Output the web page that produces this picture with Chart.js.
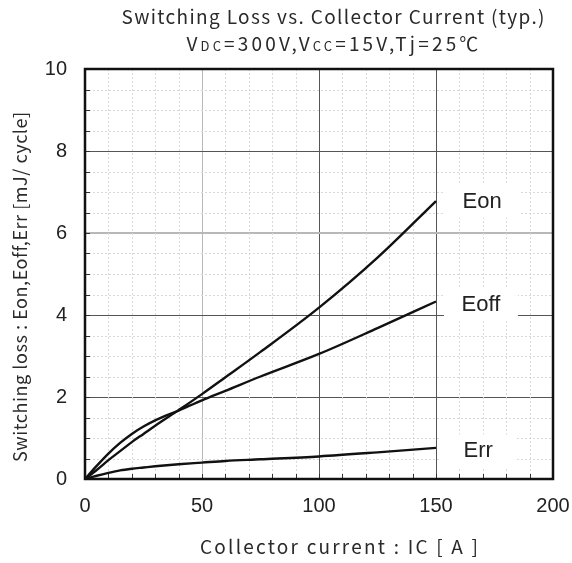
<!DOCTYPE html>
<html>
<head>
<meta charset="utf-8">
<script src="https://cdn.jsdelivr.net/npm/chart.js@4"></script>
<style>
  html, body { margin: 0; padding: 0; background: #fff; }
  #wrap { width: 572px; height: 563px; }
</style>
</head>
<body>
<div id="wrap"><canvas id="lossChart"></canvas></div>
<script>
const FONT = '"Liberation Sans", Arial, sans-serif';
const TITLE_FONT = '"Noto Sans CJK JP", "Noto Sans", sans-serif';

// collector current [A]
const currents = [0, 5, 10, 15, 20, 25, 30, 40, 50, 60, 75, 100, 125, 150];
// switching losses [mJ/cycle]
const eon  = [0, 0.22, 0.46, 0.68, 0.9, 1.1, 1.3, 1.68, 2.07, 2.48, 3.1, 4.18, 5.4, 6.78];
const eoff = [0, 0.32, 0.62, 0.88, 1.1, 1.28, 1.43, 1.67, 1.92, 2.15, 2.5, 3.05, 3.68, 4.33];
const err  = [0, 0.08, 0.15, 0.21, 0.25, 0.28, 0.31, 0.36, 0.4, 0.44, 0.48, 0.55, 0.65, 0.76];

const seriesNames = ['Eon', 'Eoff', 'Err'];
// where each series name sits (x in A, y in mJ)
const namePos = [[169.7, 6.78], [169.2, 4.26], [168, 0.7]];

function toPoints(values) {
    return values.map((v, i) => ({ x: currents[i], y: v }));
}

// draw text fitted to a given width by adjusting letter spacing
function spreadText(ctx, text, cx, y, width) {
    ctx.letterSpacing = '0px';
    const natural = ctx.measureText(text).width;
    const gap = (width - natural) / (text.length - 1);
    ctx.letterSpacing = gap + 'px';
    ctx.textAlign = 'left';
    ctx.fillText(text, cx - width / 2, y);
    ctx.letterSpacing = '0px';
}

const lineStyle = {
    borderColor: '#111',
    borderWidth: 2.4,
    pointRadius: 0,
    fill: false,
    tension: 0.4,
    cubicInterpolationMode: 'monotone',
};

// minor grid, frame, tick marks, series names and titles
const decorations = {
    id: 'decorations',
    beforeDatasetsDraw(chart) {
        const { ctx, chartArea: a, scales } = chart;
        ctx.save();
        ctx.lineWidth = 1;
        ctx.strokeStyle = '#d9d9d9';
        ctx.setLineDash([2, 2]);
        for (let i = 1; i < 20; i++) {
            const v = i * 10;
            if (v % 50 === 0) continue;
            const px = Math.round(scales.x.getPixelForValue(v)) + 0.5;
            ctx.beginPath();
            ctx.moveTo(px, a.top);
            ctx.lineTo(px, a.bottom);
            ctx.stroke();
        }
        for (let i = 1; i < 20; i++) {
            if (i % 4 === 0) continue;
            const py = Math.round(scales.y.getPixelForValue(i * 0.5)) + 0.5;
            ctx.beginPath();
            ctx.moveTo(a.left, py);
            ctx.lineTo(a.right, py);
            ctx.stroke();
        }
        ctx.setLineDash([]);
        ctx.strokeStyle = '#333';
        for (let i = 1; i < 20; i++) {
            const px = Math.round(scales.x.getPixelForValue(i * 10)) + 0.5;
            ctx.beginPath();
            ctx.moveTo(px, a.bottom);
            ctx.lineTo(px, a.bottom - 5);
            ctx.stroke();
            const py = Math.round(scales.y.getPixelForValue(i * 0.5)) + 0.5;
            ctx.beginPath();
            ctx.moveTo(a.left, py);
            ctx.lineTo(a.left + 5, py);
            ctx.stroke();
        }
        ctx.restore();
    },
    afterDatasetsDraw(chart) {
        const { ctx, chartArea: a, scales } = chart;
        ctx.save();

        // series names on white boxes
        ctx.font = '22px ' + FONT;
        ctx.textAlign = 'center';
        ctx.textBaseline = 'middle';
        seriesNames.forEach((name, i) => {
            const px = scales.x.getPixelForValue(namePos[i][0]);
            const py = scales.y.getPixelForValue(namePos[i][1]);
            ctx.fillStyle = '#fff';
            ctx.fillRect(px - 37, py - 16, 74, 33);
            ctx.fillStyle = '#222';
            ctx.fillText(name, px, py + 1);
        });

        // plot frame
        ctx.strokeStyle = '#111';
        ctx.lineWidth = 2.5;
        ctx.strokeRect(a.left, a.top, a.right - a.left, a.bottom - a.top);

        // titles
        ctx.fillStyle = '#2a2a2a';
        ctx.textBaseline = 'alphabetic';
        ctx.font = '19px ' + TITLE_FONT;
        spreadText(ctx, 'Switching Loss vs. Collector Current (typ.)', 333, 24, 423);

        const parts = [['V', 19], ['DC', 13], ['=300V,V', 19], ['CC', 13], ['=15V,Tj=25℃', 19]];
        let total = 0;
        parts.forEach(([t, s]) => { ctx.font = s + 'px ' + TITLE_FONT; total += ctx.measureText(t).width; });
        const extra = (295 - total) / 23;
        let x = 334 - 295 / 2;
        ctx.textAlign = 'left';
        parts.forEach(([t, s]) => {
            ctx.font = s + 'px ' + TITLE_FONT;
            ctx.letterSpacing = extra + 'px';
            ctx.fillText(t, x, 51);
            x += ctx.measureText(t).width;
        });
        ctx.letterSpacing = '0px';

        ctx.font = '19px ' + TITLE_FONT;
        spreadText(ctx, 'Collector current : IC [ A ]', 339, 554, 278);

        ctx.translate(27, 287);
        ctx.rotate(-Math.PI / 2);
        ctx.font = '18px ' + TITLE_FONT;
        spreadText(ctx, 'Switching loss : Eon,Eoff,Err [mJ/ cycle]', 0, 0, 350);
        ctx.restore();
    }
};

function majorGrid(major, light) {
    return c => {
        const v = c.tick ? Math.round(c.tick.value * 100) / 100 : null;
        if (v === null) return 'rgba(0,0,0,0)';
        if (light.includes(v)) return '#b8b8b8';
        if (major.includes(v)) return '#555';
        return 'rgba(0,0,0,0)';
    };
}

function dropPadding(s) {
    s.paddingLeft = 0;
    s.paddingRight = 0;
    s.paddingTop = 0;
    s.paddingBottom = 0;
}

new Chart(document.getElementById('lossChart'), {
    type: 'line',
    data: {
        datasets: [
            { label: 'Eon', data: toPoints(eon), ...lineStyle },
            { label: 'Eoff', data: toPoints(eoff), ...lineStyle },
            { label: 'Err', data: toPoints(err), ...lineStyle },
        ],
    },
    options: {
        responsive: true,
        maintainAspectRatio: false,
        animation: false,
        layout: { padding: { top: 69, right: 19, left: 0, bottom: 0 } },
        plugins: {
            legend: { display: false },
            tooltip: { enabled: false },
        },
        scales: {
            x: {
                type: 'linear',
                min: 0,
                max: 200,
                afterFit: s => { s.height = 84; dropPadding(s); },
                ticks: {
                    stepSize: 50,
                    padding: 15,
                    autoSkip: false,
                    maxRotation: 0,
                    color: '#222',
                    font: { family: FONT, size: 20 },
                },
                grid: {
                    drawTicks: false,
                    color: majorGrid([50, 100, 150], [50]),
                    lineWidth: 1,
                },
                border: { display: false },
            },
            y: {
                type: 'linear',
                min: 0,
                max: 10,
                afterFit: s => { s.width = 85; dropPadding(s); },
                ticks: {
                    stepSize: 2,
                    padding: 18,
                    autoSkip: false,
                    color: '#222',
                    font: { family: FONT, size: 20 },
                },
                grid: {
                    drawTicks: false,
                    color: majorGrid([2, 4, 6, 8], [6]),
                    lineWidth: c => (c.tick && c.tick.value === 6 ? 2 : 1),
                },
                border: { display: false },
            },
        },
    },
    plugins: [decorations],
});
</script>
</body>
</html>
